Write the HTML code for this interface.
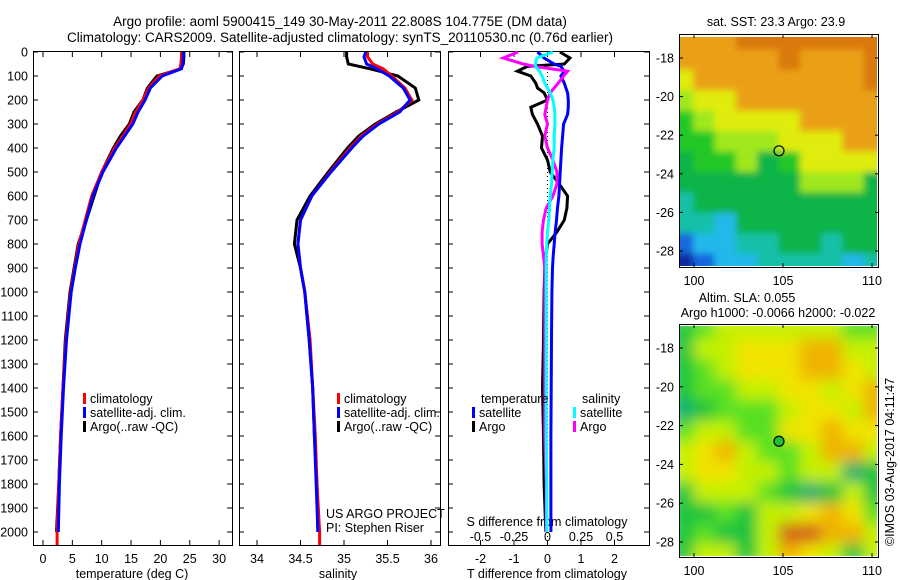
<!DOCTYPE html>
<html><head><meta charset="utf-8"><style>
body{margin:0;background:#fff}
svg{display:block;font-family:"Liberation Sans",sans-serif}
text{fill:#000}
</style></head><body>
<svg id="c" width="900" height="580" viewBox="0 0 900 580">
<defs>
<filter id="blur1" x="0" y="0" width="100%" height="100%"><feGaussianBlur stdDeviation="3.5"/></filter>
<filter id="blur2" x="0" y="0" width="100%" height="100%"><feGaussianBlur stdDeviation="7"/></filter>
<clipPath id="m1c"><rect x="680" y="37" width="197" height="229"/></clipPath>
<clipPath id="m2c"><rect x="680" y="326" width="197" height="230"/></clipPath>
</defs>
<text x="340" y="26" font-size="13.5" text-anchor="middle">Argo profile: aoml 5900415_149 30-May-2011 22.808S 104.775E (DM data)</text>
<text x="340" y="42" font-size="13.5" text-anchor="middle">Climatology: CARS2009. Satellite-adjusted climatology: synTS_20110530.nc (0.76d earlier)</text>
<g id="g"></g>
</svg>
<script>
// ---- data ----
const depths = [0,20,50,70,100,150,200,250,300,350,400,500,600,700,800,900,1000,1200,1400,1600,1800,2000];
const tempClim = [23.6,23.6,23.5,23.3,19.8,18.0,17.0,15.8,14.9,13.6,12.2,10.0,8.3,7.2,6.1,5.4,4.7,3.9,3.4,3.0,2.7,2.4];
const tempSat  = [23.9,23.9,23.8,23.6,20.3,18.3,17.4,16.2,15.3,13.9,12.5,10.2,8.5,7.4,6.3,5.5,4.8,4.0,3.5,3.1,2.8,2.6];
const tempArgo = [24.0,24.0,23.9,23.5,19.4,17.8,17.0,15.5,14.7,13.2,12.0,10.0,8.7,7.4,6.0,5.3,4.6,3.8,3.4,3.0,2.7,2.3];
const salClim = [35.27,35.27,35.33,35.45,35.55,35.70,35.78,35.62,35.38,35.20,35.07,34.84,34.63,34.50,34.47,34.50,34.55,34.61,34.64,34.67,34.69,34.72];
const salSat  = [35.25,35.23,35.26,35.38,35.52,35.68,35.76,35.64,35.40,35.22,35.09,34.85,34.63,34.50,34.47,34.50,34.55,34.60,34.64,34.66,34.68,34.70];
const salArgo = [35.03,35.03,35.05,35.30,35.62,35.82,35.86,35.60,35.36,35.17,35.04,34.82,34.61,34.46,34.43,34.50,34.55,34.60,34.64,34.66,34.69,34.70];
const diffDepths = [0,25,50,60,80,100,130,150,170,200,230,260,300,350,400,450,500,550,600,650,700,750,800,850,900,1000,1200,1400,1600,1800,2000];
const dTsat  = [-0.3,-0.1,0.2,0.4,0.5,0.4,0.5,0.55,0.6,0.62,0.62,0.6,0.48,0.45,0.42,0.4,0.38,0.36,0.34,0.3,0.27,0.23,0.2,0.17,0.15,0.13,0.12,0.11,0.1,0.1,0.1];
const dTargo = [0.37,0.67,0.5,-0.6,-0.9,-0.5,-0.35,-0.3,-0.1,0.0,-0.5,-0.45,-0.3,-0.15,-0.18,0.0,0.08,0.35,0.6,0.58,0.5,0.28,0.0,-0.05,-0.08,-0.1,-0.12,-0.15,-0.12,-0.1,-0.05];
const dSsat  = [0.04,-0.08,-0.09,-0.09,-0.06,-0.04,-0.02,0.0,0.02,0.04,0.05,0.055,0.055,0.05,0.05,0.04,0.035,0.03,0.02,0.015,0.01,0.0,-0.005,-0.01,-0.01,-0.01,-0.01,-0.01,-0.01,-0.005,-0.005];
const dSargo = [-0.22,-0.33,-0.18,-0.1,0.15,0.12,0.08,0.05,0.02,0.0,-0.01,-0.02,0.0,-0.02,0.0,0.04,0.07,0.07,0.04,-0.01,-0.03,-0.04,-0.04,-0.03,-0.02,-0.02,-0.02,-0.02,-0.02,-0.01,-0.01];
const depthTicks = [0,100,200,300,400,500,600,700,800,900,1000,1100,1200,1300,1400,1500,1600,1700,1800,1900,2000];
const tempTicks = [0,5,10,15,20,25,30];
const salTicks = [34,34.5,35,35.5,36];
const dTTicks = [-2,-1,0,1,2];
const dSTicks = [-0.5,-0.25,0,0.25,0.5];
const sstGrid = ["ooorrrrrrr","ooooorooor","yoooooooor","lyyooooooo","glyyyyoooo","gglllyyyoo","GgglGgyyyy","GGGGGGlllG","tGGGGGGGGG","ttcGGGGGGG","bccttGGtGG","Bbccttttct"];
const slaGrid = ["Ggllllllgg","Gllyyyooll","Gglyyyooyl","Gggllyylyo","TGggglyylo","gllggyyoyy","lyolgglool","lyyllgllTG","GlllgGTGlG","GGgGllyoyg","GgGGlrrool","GllGloylGl"];
// ---- helpers ----
const NS="http://www.w3.org/2000/svg";
const G=document.getElementById('g');
function el(t,a,p){const e=document.createElementNS(NS,t);for(const k in a)e.setAttribute(k,a[k]);(p||G).appendChild(e);return e;}
const yD=d=>52+d*0.24;
const xT=t=>43+t*5.87;
const xS=s=>257+(s-34)*87;
const xDT=t=>547.5+t*33.5;
const xDS=s=>547.5+s*134;
const lonX=l=>694+(l-100)*17.8;
const latY1=l=>58+(-18-l)*19.3;
const latY2=l=>348+(-18-l)*19.4;
function line(xs,ds,xf,col,name){
  const pts=xs.map((v,i)=>xf(v).toFixed(1)+','+yD(ds[i]).toFixed(1)).join(' ');
  const p=el('polyline',{points:pts,fill:'none',stroke:col,'stroke-width':3,'stroke-linejoin':'miter'});
  
  
}
function panel(x0,x1,name){
  const r=el('rect',{x:x0+0.5,y:51.5,width:x1-x0,height:494,fill:'none',stroke:'#000','stroke-width':1});
  
  
}
function txt(x,y,s,size,anchor,name){
  const t=el('text',{x:x,y:y,'font-size':size,'text-anchor':anchor||'start'});
  t.textContent=s;
  
  
  return t;
}
panel(33,232,'temperature-panel');
panel(239,440,'salinity-panel');
panel(448,649,'difference-panel');
depthTicks.forEach(d=>{
  const y=yD(d);
  el('line',{x1:33,x2:38,y1:y,y2:y,stroke:'#000'});
  txt(28,y+4.5,String(d),12.5,'end','depth-tick-label');
  [239,448].forEach(x=>el('line',{x1:x,x2:x+5,y1:y,y2:y,stroke:'#000'}));
  el('line',{x1:227,x2:232,y1:y,y2:y,stroke:'#000'});
  el('line',{x1:435,x2:440,y1:y,y2:y,stroke:'#000'});
  el('line',{x1:644,x2:649,y1:y,y2:y,stroke:'#000'});
});
tempTicks.forEach(t=>{const x=xT(t);el('line',{x1:x,x2:x,y1:52,y2:57,stroke:'#000'});el('line',{x1:x,x2:x,y1:540,y2:545,stroke:'#000'});txt(x,563,String(t),12.5,'middle','temperature-tick-label');});
salTicks.forEach(t=>{const x=xS(t);el('line',{x1:x,x2:x,y1:52,y2:57,stroke:'#000'});el('line',{x1:x,x2:x,y1:540,y2:545,stroke:'#000'});txt(x,563,String(t),12.5,'middle','salinity-tick-label');});
dTTicks.forEach(t=>{const x=xDT(t);el('line',{x1:x,x2:x,y1:52,y2:57,stroke:'#000'});el('line',{x1:x,x2:x,y1:540,y2:545,stroke:'#000'});txt(x,563,String(t),12.5,'middle','t-diff-tick-label');});
dSTicks.forEach(t=>{const x=xDS(t);txt(x,541,String(t),12.5,'middle','s-diff-tick-label');});
txt(132,578,'temperature (deg C)',12.5,'middle','temperature-axis-title');
txt(338,578,'salinity',12.5,'middle','salinity-axis-title');
txt(547,578,'T difference from climatology',12.5,'middle','t-diff-axis-title');
txt(547,526,'S difference from climatology',12.5,'middle','s-diff-axis-title');
line(tempArgo,depths,xT,'#000','temp-argo-line');
line(tempClim.concat([2.4]),depths.concat([2054]),xT,'#f00','temp-clim-line');
line(tempSat,depths,xT,'#00f','temp-sat-line');
line(salArgo,depths,xS,'#000','sal-argo-line');
line(salClim.concat([34.72]),depths.concat([2054]),xS,'#f00','sal-clim-line');
line(salSat,depths,xS,'#00f','sal-sat-line');
el('line',{x1:547.5,x2:547.5,y1:52,y2:540,stroke:'#000','stroke-dasharray':'1,3'});
line(dTargo,diffDepths,xDT,'#000','t-diff-argo-line');
line(dTsat,diffDepths,xDT,'#00f','t-diff-sat-line');
line(dSargo,diffDepths,xDS,'#f0f','s-diff-argo-line');
line(dSsat,diffDepths,xDS,'#0ff','s-diff-sat-line');
function leg(x,y,col,s,name){el('rect',{x:x,y:y-10,width:3,height:11,fill:col});txt(x+7,y,s,12.5,'start',name);}
leg(83,403,'#f00','climatology','legend-climatology');
leg(83,417,'#00f','satellite-adj. clim.','legend-satellite-adj');
leg(83,431,'#000','Argo(..raw -QC)','legend-argo');
leg(337,403,'#f00','climatology','legend-climatology-2');
leg(337,417,'#00f','satellite-adj. clim.','legend-satellite-adj-2');
leg(337,431,'#000','Argo(..raw -QC)','legend-argo-2');
txt(481,403,'temperature',12.5,'start','legend-temperature-heading');
leg(472,417,'#00f','satellite','legend-t-satellite');
leg(472,431,'#000','Argo','legend-t-argo');
txt(582,403,'salinity',12.5,'start','legend-salinity-heading');
leg(573,417,'#0ff','satellite','legend-s-satellite');
leg(573,431,'#f0f','Argo','legend-s-argo');
txt(326,518,'US ARGO PROJECT',12.5,'start','project-label');
txt(326,532,'PI: Stephen Riser',12.5,'start','pi-label');
const pal1={r:'#d9780c',o:'#eaa018',y:'#e0ec10',l:'#a0e81a',g:'#22c826',G:'#10b446',t:'#12c0a8',c:'#22b8ea',b:'#1468dc',B:'#0a2aa0'};
const pal2={G:'#18c43c',g:'#58e024',l:'#c4f000',y:'#f0e400',o:'#f0b400',r:'#d46414',T:'#10b070'};
function map(grid,pal,y0,h,clip,blur,name){
  const grp=el('g',{'clip-path':'url(#'+clip+')'});
  const inner=el('g',{filter:'url(#'+blur+')'},grp);
  const rows=grid.length,cols=grid[0].length,cw=213/cols,ch=(h+16)/rows;
  grid.forEach((row,i)=>row.split('').forEach((k,j)=>{
    el('rect',{x:672+j*cw,y:y0-8+i*ch,width:cw+1,height:ch+1,fill:pal[k]},inner);
  }));
  
  
}
map(sstGrid,pal1,37,229,'m1c','blur1','sst-map');
map(slaGrid,pal2,326,230,'m2c','blur2','sla-map');
function mapFrame(y0,y1,latY,name){
  const r=el('rect',{x:679.5,y:y0+0.5,width:199,height:y1-y0,fill:'none',stroke:'#000'});
  
  
  [100,105,110].forEach(l=>{const x=lonX(l);el('line',{x1:x,x2:x,y1:y0,y2:y0+4,stroke:'#000'});el('line',{x1:x,x2:x,y1:y1-4,y2:y1,stroke:'#000'});txt(x,y1+18,String(l),12.5,'middle','lon-tick-label');});
  [-18,-20,-22,-24,-26,-28].forEach(l=>{const y=latY(l);el('line',{x1:679,x2:683,y1:y,y2:y,stroke:'#000'});el('line',{x1:875,x2:879,y1:y,y2:y,stroke:'#000'});txt(674,y+4.5,String(l),12.5,'end','lat-tick-label');});
}
mapFrame(34,267,latY1,'sst-map-frame');
mapFrame(324,557,latY2,'sla-map-frame');
const c1=el('circle',{cx:lonX(104.775),cy:latY1(-22.808),r:5,fill:'none',stroke:'#000','stroke-width':1.2});


const c2=el('circle',{cx:lonX(104.775),cy:latY2(-22.808),r:5,fill:'#20c030',stroke:'#000','stroke-width':1.2});


txt(776,26,'sat. SST: 23.3 Argo: 23.9',12.5,'middle','sst-map-title');
txt(747,302,'Altim. SLA: 0.055',12.5,'middle','sla-map-title');
txt(778,317,'Argo h1000: -0.0066 h2000: -0.022',12.5,'middle','sla-map-subtitle');
const rt=txt(0,0,'©IMOS 03-Aug-2017 04:11:47',12.5,'middle','imos-timestamp');
rt.setAttribute('transform','translate(894,462) rotate(-90)');
</script>
</body></html>
